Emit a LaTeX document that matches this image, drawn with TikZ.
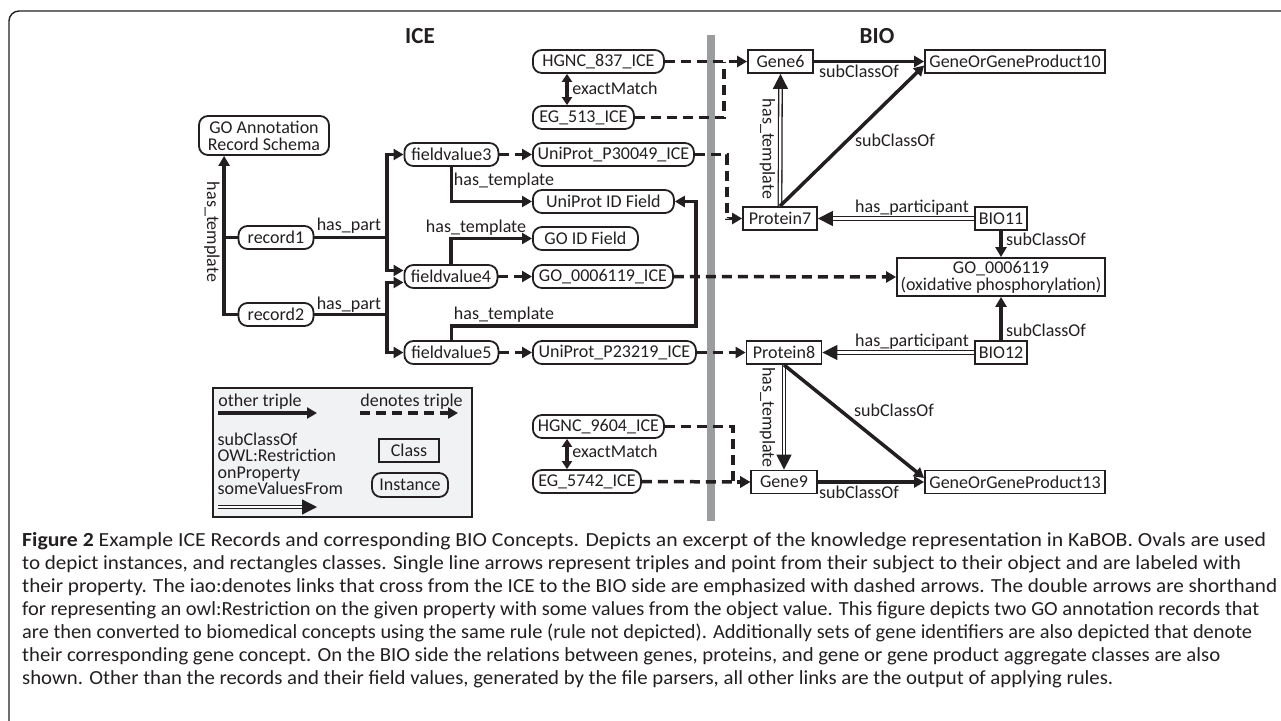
\documentclass[tikz,border=0pt]{standalone}
\usepackage{graphicx}
\usepackage{fontspec}
\setmainfont{Carlito}
\usetikzlibrary{arrows.meta}

\definecolor{ink}{HTML}{231F20}
\definecolor{sidebar}{HTML}{9B9C9E}
\definecolor{legendfill}{HTML}{F1F2F4}

\newcommand{\diagfont}{\fontsize{18}{17}\selectfont}
\newcommand{\captfont}{\fontsize{20}{23}\selectfont}
% one caption line stretched to the width it has in the figure
\newcommand{\captline}[2]{\resizebox{#1pt}{\height}{#2}}

\tikzset{
    inst/.style={draw=ink, line width=1.8pt, rounded corners=9pt, minimum height=23pt, inner xsep=3pt, inner ysep=1pt, font=\diagfont, text=ink},
    cls/.style={draw=ink, line width=1.8pt, minimum height=23pt, inner xsep=3pt, inner ysep=1pt, font=\diagfont, text=ink},
    lbl/.style={inner sep=1.5pt, font=\diagfont, text=ink},
    triple/.style={draw=ink, line width=3.5pt, -{Triangle[length=10pt,width=11pt]}},
    denotes/.style={triple, dash pattern=on 10pt off 6pt},
    restr/.style={draw=ink, line width=1.3pt, double=white, double distance=2.2pt, -{Triangle[length=15pt,width=15pt]}},
    title/.style={font=\fontsize{23}{23}\selectfont\bfseries, text=ink},
}

\begin{document}
\begin{tikzpicture}[x=1pt, y=-1pt]
    \useasboundingbox (0,0) rectangle (1281,720);
    \clip (0,0) rectangle (1281,720);

    % Ramka i podzial ICE / BIO
    \draw[ink, line width=1.4pt, rounded corners=10pt] (9,760) |- (1320,11);
    \fill[sidebar] (707,35) rectangle (715,521);
    \node[title] (ice) at (420,36) {ICE};
    \node[title] (bio) at (877,36) {BIO};

    % Rekordy po stronie ICE
    \node[inst, minimum width=130pt, minimum height=39pt, align=center] (schema) at (264,135.5) {GO Annotation\\Record Schema};
    \node[inst, minimum width=75pt] (record1) at (276,237.5) {record1};
    \node[inst, minimum width=75pt] (record2) at (276,314.5) {record2};
    \node[inst, anchor=west, minimum width=94pt] (fv3) at (403.5,154.5) {fieldvalue3};
    \node[inst, anchor=west, minimum width=93pt] (fv4) at (403.5,276.5) {fieldvalue4};
    \node[inst, anchor=west, minimum width=94pt] (fv5) at (403.5,352.5) {fieldvalue5};

    \node[inst, anchor=west, minimum width=131pt] (hgnc837) at (532,61.5) {HGNC\_837\_ICE};
    \node[inst, anchor=west, minimum width=101pt] (eg513) at (532,117.5) {EG\_513\_ICE};
    \node[inst, anchor=west, minimum width=161pt] (up30049) at (532,154.5) {UniProt\_P30049\_ICE};
    \node[inst, anchor=west, minimum width=141pt] (uidf) at (532,201.5) {UniProt ID Field};
    \node[inst, anchor=west, minimum width=105pt] (goidf) at (532,238.5) {GO ID Field};
    \node[inst, anchor=west, minimum width=140pt] (goice) at (532,276.5) {GO\_0006119\_ICE};
    \node[inst, anchor=west, minimum width=163pt] (up23219) at (532,352.5) {UniProt\_P23219\_ICE};
    \node[inst, anchor=west, minimum width=131pt] (hgnc9604) at (532,426.5) {HGNC\_9604\_ICE};
    \node[inst, anchor=west, minimum width=108pt] (eg5742) at (532,481.5) {EG\_5742\_ICE};

    % Klasy po stronie BIO
    \node[cls, minimum width=65pt] (gene6) at (780.5,61.5) {Gene6};
    \node[cls, minimum width=74pt] (protein7) at (780,218.5) {Protein7};
    \node[cls, minimum width=180pt] (gog10) at (1015,61.5) {GeneOrGeneProduct10};
    \node[cls, minimum width=52pt] (bio11) at (1001,218.5) {BIO11};
    \node[cls, minimum width=208pt, minimum height=38pt, align=center] (goclass) at (1001,277) {GO\_0006119\\(oxidative phosphorylation)};
    \node[cls, minimum width=52pt] (bio12) at (1001,352.5) {BIO12};
    \node[cls, minimum width=75pt] (protein8) at (784,352.5) {Protein8};
    \node[cls, minimum width=66pt] (gene9) at (784,482) {Gene9};
    \node[cls, minimum width=180pt] (gog13) at (1015,482) {GeneOrGeneProduct13};

    % has_template i has_part
    \draw[triple] (record2.west) -| ([xshift=26pt]schema.south west)
        node[lbl, rotate=-90] at (212,232) {has\_template};
    \draw[triple, -] (record1.west) -- ++(-14,0);
    \draw[triple] (record1.east) -- (387,237.5) |- (fv3.west)
        node[lbl] at (349,226) {has\_part};
    \draw[triple] (387,237.5) |- ([yshift=6pt]fv4.west);
    \draw[triple] (record2.east) -- (387,314.5) |- ([yshift=-6pt]fv4.west)
        node[lbl] at (349,305) {has\_part};
    \draw[triple] (387,314.5) |- (fv5.west);
    \draw[triple] (fv3.south) |- (uidf.west)
        node[lbl] at (504,180.5) {has\_template};
    \draw[triple] (fv4.north) |- (goidf.west)
        node[lbl] at (476,227.5) {has\_template};
    \draw[triple] (fv5.north) |- (696,326) |- (uidf.east)
        node[lbl] at (504,314.5) {has\_template};

    % exactMatch
    \draw[triple, {Triangle[length=8pt,width=10pt]}-{Triangle[length=8pt,width=10pt]}] ([xshift=35pt]hgnc837.south west) -- ([xshift=35pt]eg513.north west)
        node[lbl] at (615,88.5) {exactMatch};
    \draw[triple, {Triangle[length=8pt,width=10pt]}-{Triangle[length=8pt,width=10pt]}] ([xshift=35pt]hgnc9604.south west) -- ([xshift=35pt]eg5742.north west)
        node[lbl] at (615,451.5) {exactMatch};

    % denotes
    \draw[denotes] (fv3.east) -- (up30049.west);
    \draw[denotes] (fv4.east) -- (goice.west);
    \draw[denotes] (fv5.east) -- (up23219.west);
    \draw[denotes] (hgnc837.east) -- (gene6.west);
    \draw[denotes, -] (eg513.east) -| ([xshift=-23pt]gene6.west);
    \draw[denotes] (up30049.east) -- ++(32,0) |- (protein7.west);
    \draw[denotes] (goice.east) -- (goclass.west);
    \draw[denotes] (up23219.east) -- (protein8.west);
    \draw[denotes] (hgnc9604.east) -- ++(68,0) |- (gene9.west);
    \draw[denotes] (eg5742.east) -- (gene9.west);

    % Relacje miedzy klasami BIO
    \draw[restr] (protein7.north) -- (gene6.south)
        node[lbl, rotate=-90] at (767.5,149) {has\_template};
    \draw[triple] (gene6.east) -- (gog10.west)
        node[lbl] at (859,71) {subClassOf};
    \draw[triple] (protein7.north) -- ([yshift=-4pt]gog10.west)
        node[lbl] at (895,140.5) {subClassOf};
    \draw[restr] (bio11.west) -- (protein7.east)
        node[lbl] at (912,207.5) {has\_participant};
    \draw[triple] (bio11.south) -- (goclass.north)
        node[lbl] at (1046,239.5) {subClassOf};
    \draw[triple] (bio12.north) -- (goclass.south)
        node[lbl] at (1046,330) {subClassOf};
    \draw[restr] (bio12.west) -- (protein8.east)
        node[lbl] at (912,341.5) {has\_participant};
    \draw[restr] (protein8.south) -- (gene9.north)
        node[lbl, rotate=-90] at (767.5,417.5) {has\_template};
    \draw[triple] (protein8.south) -- ([yshift=4pt]gog13.west)
        node[lbl] at (894,410.5) {subClassOf};
    \draw[triple] (gene9.east) -- (gog13.west)
        node[lbl] at (859,492.5) {subClassOf};

    % Legenda
    \draw[ink, line width=1.4pt, fill=legendfill] (213,388) rectangle (472,517);
    \node[lbl] (lgother) at (260,401.5) {other triple};
    \node[lbl] (lgdenotes) at (411.5,401.5) {denotes triple};
    \coordinate (lgA) at (218,413);
    \coordinate (lgB) at (360,413);
    \coordinate (lgC) at (218,507);
    \draw[triple] (lgA) -- ++(99,0);
    \draw[denotes] (lgB) -- ++(98,0);
    \node[lbl, anchor=north west, align=left, font=\fontsize{18}{16.5}\selectfont] (lgkeys) at (216,431) {subClassOf\\OWL:Restriction\\onProperty\\someValuesFrom};
    \draw[restr] (lgC) -- ++(99,0);
    \node[cls, minimum width=60pt] (lgclass) at (409,450.5) {Class};
    \node[inst, minimum width=76pt, minimum height=24pt] (lginst) at (410,485) {Instance};

    % Podpis
    \node[anchor=north west, align=left, inner sep=0pt, text=ink, font=\captfont] (caption) at (22,532) {%
\captline{1244}{\textbf{Figure 2} Example ICE Records and corresponding BIO Concepts. Depicts an excerpt of the knowledge representation in KaBOB. Ovals are used}\\
\captline{1219}{to depict instances, and rectangles classes. Single line arrows represent triples and point from their subject to their object and are labeled with}\\
\captline{1255}{their property. The iao:denotes links that cross from the ICE to the BIO side are emphasized with dashed arrows. The double arrows are shorthand}\\
\captline{1237}{for representing an owl:Restriction on the given property with some values from the object value. This figure depicts two GO annotation records that}\\
\captline{1230}{are then converted to biomedical concepts using the same rule (rule not depicted). Additionally sets of gene identifiers are also depicted that denote}\\
\captline{1198}{their corresponding gene concept. On the BIO side the relations between genes, proteins, and gene or gene product aggregate classes are also}\\
\captline{1091}{shown. Other than the records and their field values, generated by the file parsers, all other links are the output of applying rules.}};
\end{tikzpicture}
\end{document}
